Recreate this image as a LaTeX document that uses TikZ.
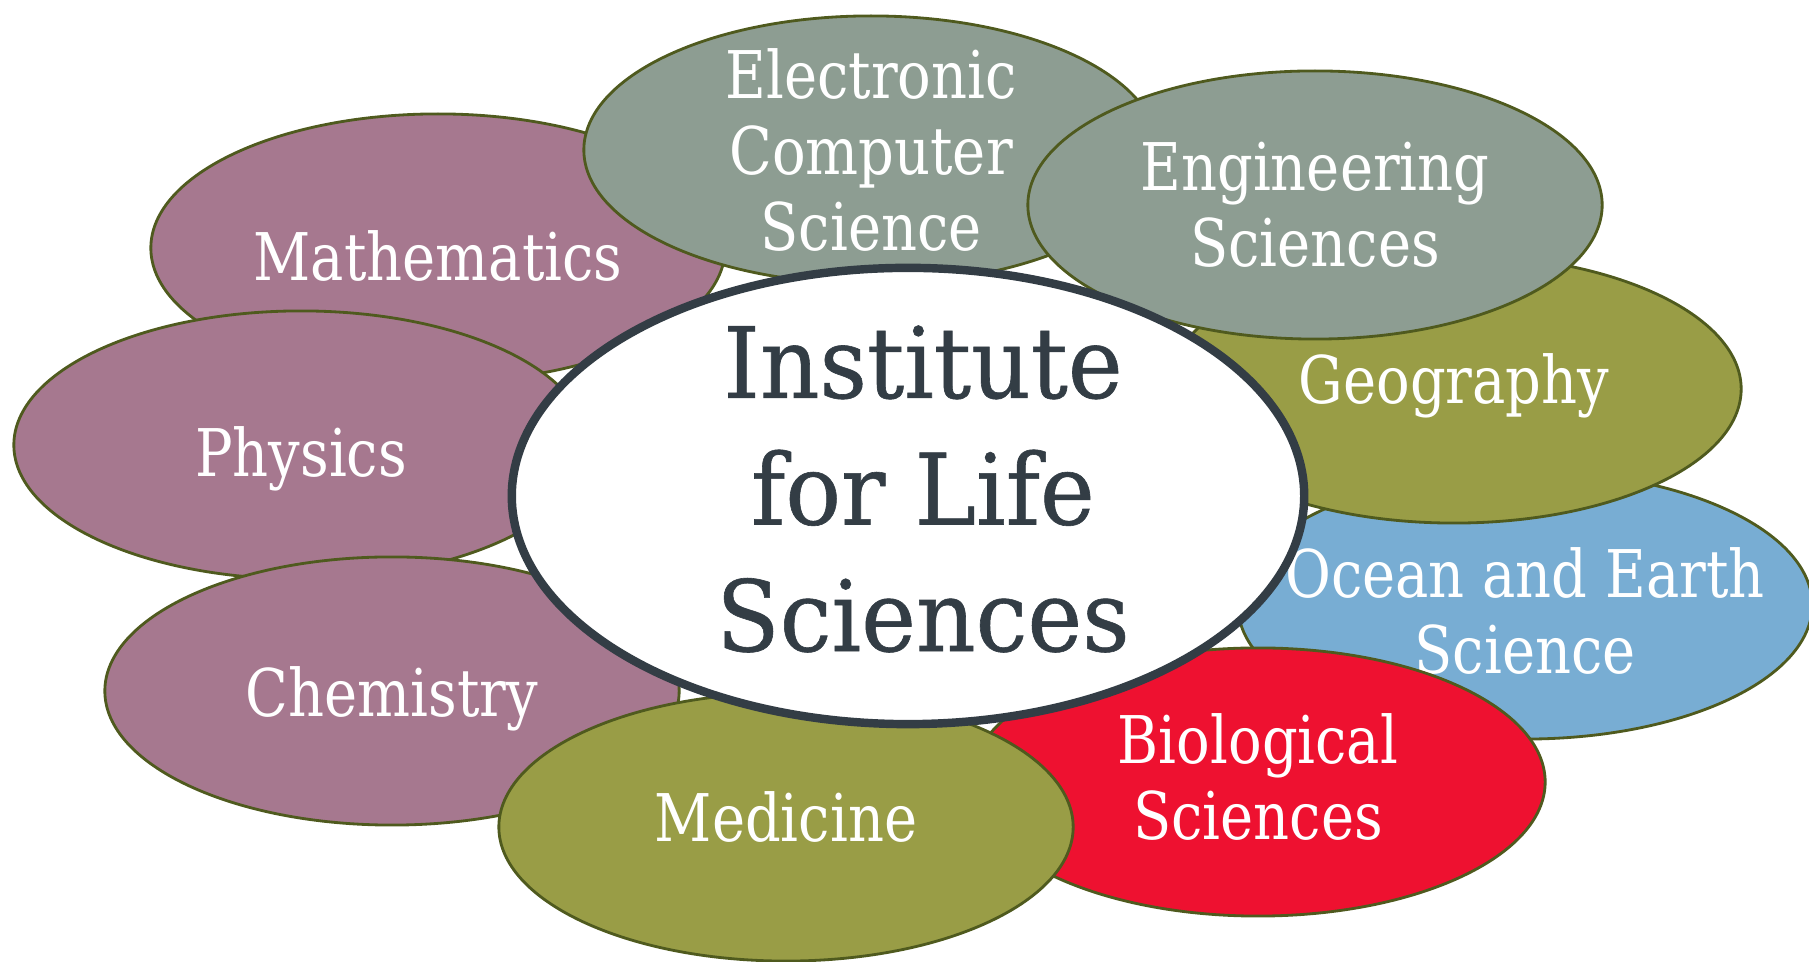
\documentclass[tikz,border=0pt]{standalone}
\usepackage{fontspec}
\setmainfont{DejaVu Serif}[FakeStretch=0.85]
\newfontfamily\hubfont{DejaVu Serif}[FakeStretch=0.94, FakeBold=0.6]
\usepackage{tikz}
\usetikzlibrary{shapes.geometric}

\definecolor{mauve}{HTML}{A6788F}
\definecolor{sage}{HTML}{8D9D92}
\definecolor{olive}{HTML}{999D46}
\definecolor{sea}{HTML}{78ADD3}
\definecolor{bio}{HTML}{EE1130}
\definecolor{rim}{HTML}{4F5A1E}
\definecolor{hubline}{HTML}{333D45}

\tikzstyle{field} = [ellipse, draw=rim, line width=0.8pt, inner sep=0pt,
    minimum width=5.74cm, minimum height=2.68cm]
\tikzstyle{fieldname} = [text=white, align=center,
    font=\fontsize{18.7}{21.5}\selectfont]
\tikzstyle{hub} = [ellipse, draw=hubline, line width=2.4pt, fill=white,
    inner sep=0pt, minimum width=7.92cm, minimum height=4.56cm]
\tikzstyle{hubname} = [text=hubline, align=center,
    font=\hubfont\fontsize{28}{36}\selectfont]

\begin{document}
\begin{tikzpicture}[x=0.01cm, y=-0.01cm]

        \useasboundingbox (0,0) rectangle (1809,962);

        % outer ring, back to front
        \node (maths) [field, fill=mauve,
            label={[fieldname, yshift=-0.08cm]center:Mathematics}]
            at (438,248) {};
        \node (ecs) [field, fill=sage,
            label={[fieldname]center:Electronic\\Computer\\Science}]
            at (871,150) {};
        \node (phys) [field, fill=mauve,
            label={[fieldname, yshift=-0.14cm]center:Physics}]
            at (301,445) {};
        \node (chem) [field, fill=mauve,
            label={[fieldname, yshift=-0.08cm]center:Chemistry}]
            at (392,691) {};
        \node (ocean) [field, fill=sea,
            label={[fieldname, yshift=-0.06cm]center:Ocean and Earth\\Science}]
            at (1525,605) {};
        \node (geog) [field, fill=olive,
            label={[fieldname, yshift=0.03cm]center:Geography}]
            at (1454,389) {};
        \node (eng) [field, fill=sage,
            label={[fieldname]center:Engineering\\Sciences}]
            at (1315,205) {};
        \node (bio) [field, fill=bio,
            label={[fieldname, yshift=0.05cm]center:Biological\\Sciences}]
            at (1258,782) {};
        \node (med) [field, fill=olive,
            label={[fieldname, yshift=0.1cm]center:Medicine}]
            at (786,827) {};

        % centre
        \node (ils) [hub,
            label={[hubname, xshift=0.15cm, yshift=0.07cm]center:Institute\\for Life\\Sciences}]
            at (908,496) {};

\end{tikzpicture}
\end{document}
